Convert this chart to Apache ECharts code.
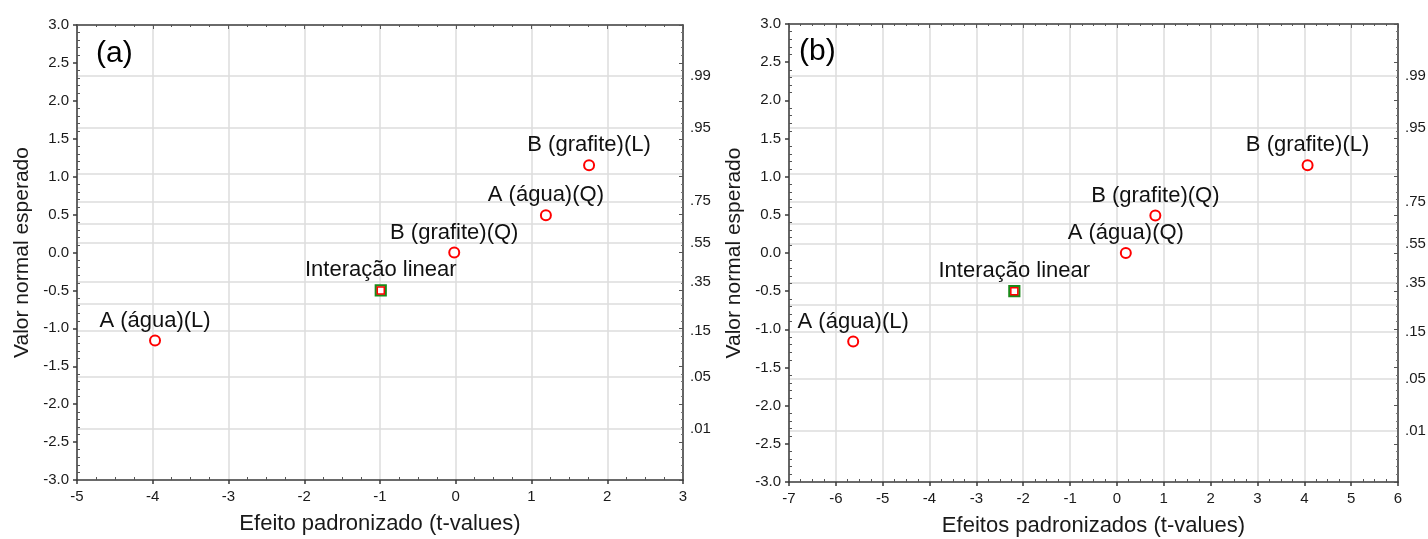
<!DOCTYPE html>
<html>
<head>
<meta charset="utf-8">
<script src="https://cdn.jsdelivr.net/npm/echarts@6/dist/echarts.min.js"></script>
<style>
  html, body { margin: 0; padding: 0; background: #fff; }
  #chart { width: 1428px; height: 539px; }
</style>
</head>
<body>
<div id="chart"></div>
<script>
// Normal probability plots of standardized effects, panels (a) and (b)
const effectsA = ['A (água)(L)', 'Interação linear', 'B (grafite)(Q)', 'A (água)(Q)', 'B (grafite)(L)'];
const tValuesA = [-3.97, -0.99, -0.02, 1.19, 1.76];
const normalA = [-1.16, -0.50, 0.00, 0.49, 1.15];

const effectsB = ['A (água)(L)', 'Interação linear', 'A (água)(Q)', 'B (grafite)(Q)', 'B (grafite)(L)'];
const tValuesB = [-5.63, -2.19, 0.19, 0.82, 4.07];
const normalB = [-1.16, -0.50, 0.00, 0.49, 1.15];

const interactionTerm = 'Interação linear';

// cumulative probabilities shown on the right-hand scale
const probGrid = [0.01, 0.05, 0.15, 0.25, 0.35, 0.55, 0.65, 0.75, 0.85, 0.95, 0.99];
const probLabels = [0.01, 0.05, 0.15, 0.35, 0.55, 0.75, 0.95, 0.99];

// inverse of the standard normal CDF (Acklam's rational approximation)
function probit(p) {
  const a = [-3.969683028665376e+01, 2.209460984245205e+02, -2.759285104469687e+02, 1.383577518672690e+02, -3.066479806614716e+01, 2.506628277459239e+00];
  const b = [-5.447609879822406e+01, 1.615858368580409e+02, -1.556989798598866e+02, 6.680131188771972e+01, -1.328068155288572e+01];
  const c = [-7.784894002430293e-03, -3.223964580411365e-01, -2.400758277161838e+00, -2.549732539343734e+00, 4.374664141464968e+00, 2.938163982698783e+00];
  const d = [7.784695709041462e-03, 3.224671290700398e-01, 2.445134137142996e+00, 3.754408661907416e+00];
  const pl = 0.02425, ph = 1 - pl;
  let q, r;
  if (p < pl) {
    q = Math.sqrt(-2 * Math.log(p));
    return (((((c[0]*q+c[1])*q+c[2])*q+c[3])*q+c[4])*q+c[5]) / ((((d[0]*q+d[1])*q+d[2])*q+d[3])*q+1);
  }
  if (p > ph) {
    q = Math.sqrt(-2 * Math.log(1 - p));
    return -(((((c[0]*q+c[1])*q+c[2])*q+c[3])*q+c[4])*q+c[5]) / ((((d[0]*q+d[1])*q+d[2])*q+d[3])*q+1);
  }
  q = p - 0.5; r = q * q;
  return (((((a[0]*r+a[1])*r+a[2])*r+a[3])*r+a[4])*r+a[5])*q / (((((b[0]*r+b[1])*r+b[2])*r+b[3])*r+b[4])*r+1);
}

const gridZ = probGrid.map(probit);
const labelZ = probLabels.map(probit);
function probText(z) {
  let best = 0;
  labelZ.forEach((v, i) => { if (Math.abs(v - z) < Math.abs(labelZ[best] - z)) best = i; });
  return '.' + String(Math.round(probLabels[best] * 100)).padStart(2, '0');
}

const FONT = '"Liberation Sans", Arial, sans-serif';
const TEXT = '#1a1a1a';
const FRAME = { color: '#3a3a3a', width: 1.5 };
const GRIDLINE = { color: '#dcdcdc', width: 1.5 };

const panels = [
  { tag: '(a)', names: effectsA, t: tValuesA, z: normalA, xMin: -5, xMax: 3,
    xName: 'Efeito padronizado (t-values)',
    box: { left: 77, top: 25, width: 606, height: 455 }, tagPos: { left: 96, top: 39 } },
  { tag: '(b)', names: effectsB, t: tValuesB, z: normalB, xMin: -7, xMax: 6,
    xName: 'Efeitos padronizados (t-values)',
    box: { left: 789, top: 24, width: 609, height: 458 }, tagPos: { left: 799, top: 37 } }
];

const grid = [], xAxis = [], yAxis = [], series = [], title = [];

panels.forEach((p, i) => {
  grid.push(Object.assign({ outerBoundsMode: 'none', containLabel: false }, p.box));
  title.push({ text: p.tag, left: p.tagPos.left, top: p.tagPos.top, padding: 0,
    textStyle: { fontFamily: FONT, fontSize: 30, fontWeight: 'normal', color: '#000' } });

  const xBase = { gridIndex: i, type: 'value', min: p.xMin, max: p.xMax, interval: 1 };
  // bottom axis: labels, outward major ticks, vertical grid lines
  xAxis.push(Object.assign({}, xBase, {
    position: 'bottom', name: p.xName, nameLocation: 'middle', nameGap: 33, nameMoveOverlap: false,
    nameTextStyle: { fontFamily: FONT, fontSize: 22, color: TEXT },
    axisLine: { show: true, onZero: false, lineStyle: FRAME },
    axisTick: { show: true, length: 4, lineStyle: FRAME },
    axisLabel: { fontFamily: FONT, fontSize: 15, color: TEXT, margin: 9 },
    splitLine: { show: true, lineStyle: GRIDLINE }
  }));
  // bottom axis: inward minor ticks
  xAxis.push(Object.assign({}, xBase, {
    position: 'bottom',
    axisLine: { show: false, onZero: false },
    axisTick: { show: false, inside: true },
    minorTick: { show: true, splitNumber: 4, length: 3, lineStyle: { color: '#555', width: 1 } },
    axisLabel: { show: false }, splitLine: { show: false }
  }));
  // top frame edge
  xAxis.push(Object.assign({}, xBase, {
    position: 'top',
    axisLine: { show: true, onZero: false, lineStyle: FRAME },
    axisTick: { show: true, inside: true, length: 4, lineStyle: { color: '#555', width: 1 } },
    minorTick: { show: true, splitNumber: 4, length: 2, lineStyle: { color: '#555', width: 1 } },
    axisLabel: { show: false }, splitLine: { show: false }
  }));

  const yBase = { gridIndex: i, type: 'value', min: -3, max: 3, interval: 0.5 };
  // left axis: labels and outward major ticks
  yAxis.push(Object.assign({}, yBase, {
    position: 'left', name: 'Valor normal esperado', nameLocation: 'middle', nameGap: 44, nameMoveOverlap: false,
    nameTextStyle: { fontFamily: FONT, fontSize: 21, color: TEXT },
    axisLine: { show: true, onZero: false, lineStyle: FRAME },
    axisTick: { show: true, length: 4, lineStyle: FRAME },
    axisLabel: { fontFamily: FONT, fontSize: 15, color: TEXT, margin: 8, formatter: v => v.toFixed(1) },
    splitLine: { show: false }
  }));
  // left axis: inward minor ticks
  yAxis.push(Object.assign({}, yBase, {
    position: 'left',
    axisLine: { show: false, onZero: false },
    axisTick: { show: false, inside: true },
    minorTick: { show: true, splitNumber: 5, length: 3, lineStyle: { color: '#555', width: 1 } },
    axisLabel: { show: false }, splitLine: { show: false }
  }));
  // right frame edge
  yAxis.push(Object.assign({}, yBase, {
    position: 'right',
    axisLine: { show: true, onZero: false, lineStyle: FRAME },
    axisTick: { show: true, inside: true, length: 4, lineStyle: { color: '#555', width: 1 } },
    minorTick: { show: true, splitNumber: 5, length: 2, lineStyle: { color: '#777', width: 1 } },
    axisLabel: { show: false }, splitLine: { show: false }
  }));
  // right probability scale: horizontal grid lines and labels
  yAxis.push({
    gridIndex: i, type: 'value', min: -3, max: 3, position: 'right',
    axisLine: { show: false, onZero: false },
    axisTick: { show: false, customValues: gridZ },
    axisLabel: { fontFamily: FONT, fontSize: 15, color: TEXT, margin: 7,
      customValues: labelZ, formatter: v => probText(v) },
    splitLine: { show: true, lineStyle: GRIDLINE }
  });

  const points = p.names.map((n, k) => ({ name: n, value: [p.t[k], p.z[k]] }));
  const label = { show: true, position: 'top', distance: 3, formatter: '{b}',
    fontFamily: FONT, fontSize: 22, color: '#111' };
  const axes = { xAxisIndex: i * 3, yAxisIndex: i * 4 };

  series.push(Object.assign({
    type: 'scatter', symbol: 'circle', symbolSize: 10, z: 5,
    data: points.filter(d => d.name !== interactionTerm),
    itemStyle: { color: '#fff', borderColor: '#ff0000', borderWidth: 2, opacity: 1 },
    label
  }, axes));
  series.push(Object.assign({
    type: 'scatter', symbol: 'rect', symbolSize: 10, z: 5,
    data: points.filter(d => d.name === interactionTerm),
    itemStyle: { color: '#fff', borderColor: '#1a8a1a', borderWidth: 2.2, opacity: 1 },
    label
  }, axes));
  series.push(Object.assign({
    type: 'scatter', symbol: 'rect', symbolSize: 7, z: 6,
    data: points.filter(d => d.name === interactionTerm),
    itemStyle: { color: '#fff', borderColor: '#ff0000', borderWidth: 1.5, opacity: 1 },
    label: { show: false }
  }, axes));
});

const chart = echarts.init(document.getElementById('chart'), null, { renderer: 'canvas' });
chart.setOption({
  backgroundColor: '#fff',
  animation: false,
  textStyle: { fontFamily: FONT },
  title, grid, xAxis, yAxis, series
});
</script>
</body>
</html>
